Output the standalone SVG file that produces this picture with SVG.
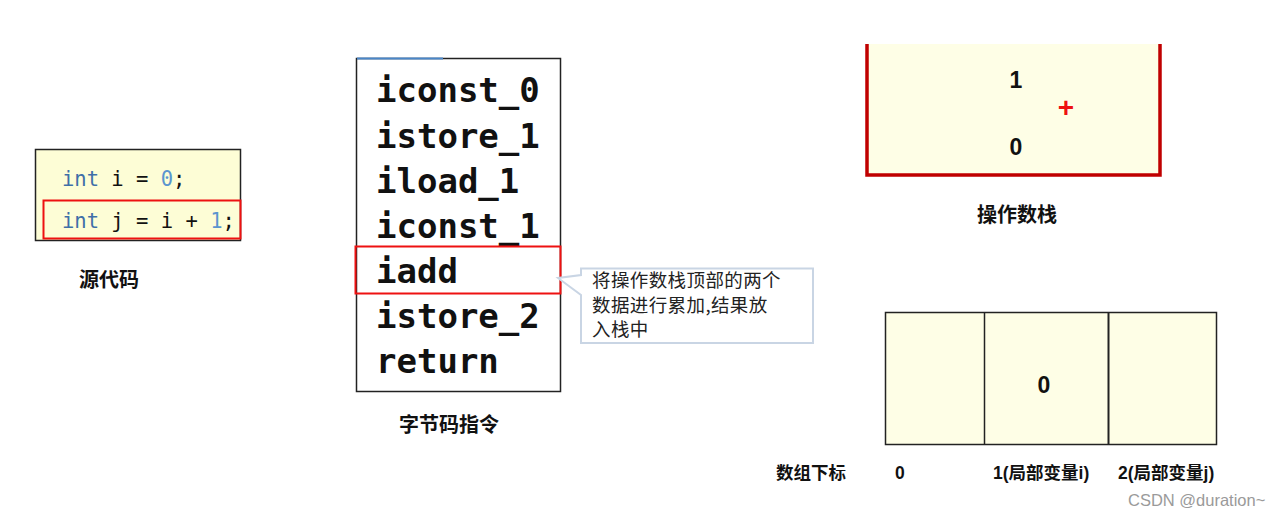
<svg xmlns="http://www.w3.org/2000/svg" width="1280" height="517" viewBox="0 0 1280 517">
<style>
.code{font-family:"DejaVu Sans Mono","Liberation Mono",monospace;font-size:20.5px;fill:#111}
.kw{fill:#3f6fa8}
.num{fill:#5b95cf}
.bc{font-family:"DejaVu Sans Mono","Liberation Mono",monospace;font-size:34px;font-weight:bold;fill:#111}
.cap{font-family:"Liberation Sans","Noto Sans CJK SC",sans-serif;font-size:20px;font-weight:bold;fill:#111;text-anchor:middle}
.val{font-family:"Liberation Sans","Noto Sans CJK SC",sans-serif;font-size:23px;font-weight:bold;fill:#111;text-anchor:middle}
.note{font-family:"Noto Sans CJK SC",sans-serif;font-size:18.5px;letter-spacing:0.4px;fill:#222}
.lbl{font-family:"Liberation Sans","Noto Sans CJK SC",sans-serif;font-size:17.5px;font-weight:bold;fill:#111}
.hl{fill:none;stroke:#ee1111;stroke-width:2}
</style>
<rect width="1280" height="517" fill="#ffffff"/>

<g id="source">
<rect x="35.5" y="149.5" width="205" height="91" fill="#fdfdd6" stroke="#222" stroke-width="1.5"/>
<text class="code" x="62" y="186"><tspan class="kw">int</tspan> i = <tspan class="num">0</tspan>;</text>
<text class="code" x="62" y="228"><tspan class="kw">int</tspan> j = i + <tspan class="num">1</tspan>;</text>
<rect class="hl" x="43.5" y="200.5" width="197" height="38"/>
<text class="cap" x="109" y="287">源代码</text>
</g>

<g id="bytecode">
<rect x="356.5" y="58.5" width="204" height="333" fill="#ffffff" stroke="#222" stroke-width="1.5"/>
<line x1="357" y1="58.5" x2="443" y2="58.5" stroke="#4a86c8" stroke-width="2"/>
<text class="bc" x="376" y="102">iconst_0</text>
<text class="bc" x="376" y="147.5">istore_1</text>
<text class="bc" x="376" y="193">iload_1</text>
<text class="bc" x="376" y="238">iconst_1</text>
<text class="bc" x="376" y="283">iadd</text>
<text class="bc" x="376" y="328">istore_2</text>
<text class="bc" x="376" y="373">return</text>
<rect class="hl" x="355.5" y="246.5" width="205" height="47"/>
<text class="cap" x="449" y="432">字节码指令</text>
</g>

<g id="callout">
<path d="M581,268.5 H813 V343 H581 V295 L558,278 L581,275 Z" fill="#ffffff" stroke="#c9d5e4" stroke-width="2" stroke-linejoin="miter"/>
<text class="note" x="592" y="287">将操作数栈顶部的两个</text>
<text class="note" x="592" y="311.5">数据进行累加,结果放</text>
<text class="note" x="592" y="336">入栈中</text>
</g>

<g id="operand-stack">
<rect x="867" y="44" width="293" height="131" fill="#fefee6"/>
<path d="M867,44 V175 H1160 V44" fill="none" stroke="#c00000" stroke-width="3.5"/>
<text class="val" x="1016" y="88">1</text>
<text class="val" x="1016" y="155">0</text>
<text x="1066" y="117" font-family="Liberation Sans,sans-serif" font-size="28" font-weight="bold" fill="#ee1111" text-anchor="middle">+</text>
<text class="cap" x="1017" y="222">操作数栈</text>
</g>

<g id="local-vars">
<rect x="885.5" y="312.5" width="331" height="132" fill="#fefee6" stroke="#222" stroke-width="1.5"/>
<line x1="984.5" y1="312" x2="984.5" y2="445" stroke="#222" stroke-width="1.5"/>
<line x1="1108.5" y1="312" x2="1108.5" y2="445" stroke="#222" stroke-width="2"/>
<text class="val" x="1044" y="393">0</text>
<text class="lbl" x="776" y="479">数组下标</text>
<text class="lbl" x="895" y="479">0</text>
<text class="lbl" x="993" y="479">1(局部变量i)</text>
<text class="lbl" x="1118" y="479">2(局部变量j)</text>
</g>

<text x="1128" y="506" font-family="Liberation Sans,sans-serif" font-size="16.5" fill="#9a9a9a">CSDN @duration~</text>
</svg>
